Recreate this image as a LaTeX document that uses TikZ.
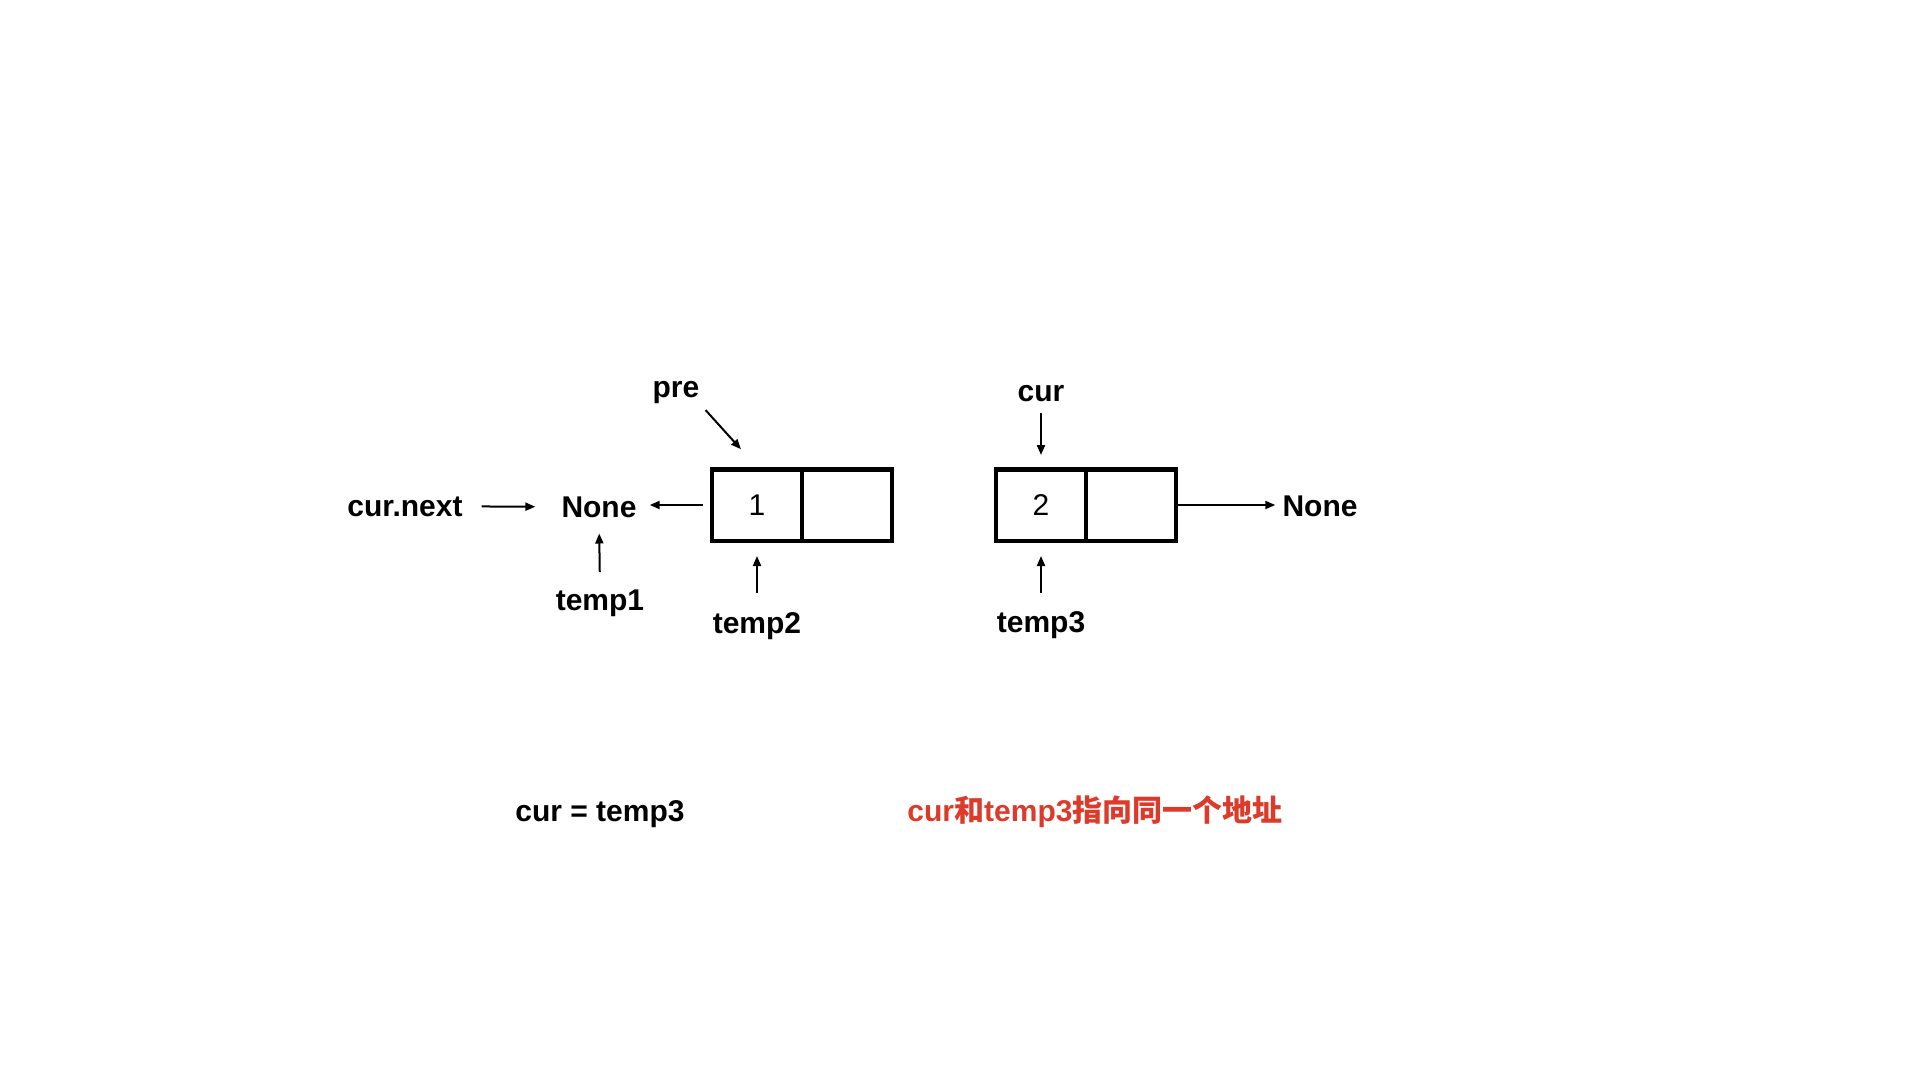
\documentclass[tikz,border=0pt]{standalone}
\usepackage{fontspec}
\setmainfont{Liberation Sans}
\newfontfamily\cjk{Noto Sans CJK SC}
\usetikzlibrary{arrows.meta}
\definecolor{redtxt}{RGB}{222,58,42}
\begin{document}
\begin{tikzpicture}[x=1pt,y=-1pt,
  lbl/.style={font=\fontsize{30}{36}\selectfont\bfseries, inner sep=0pt, anchor=base},
  cell/.style={draw, line width=4.5pt, minimum width=90pt, minimum height=71.5pt, inner sep=0pt, font=\fontsize{30}{36}\selectfont},
  arr/.style={line width=2pt, -{Triangle[length=10pt,width=8pt]}}]
\useasboundingbox[fill=white] (0,0) rectangle (1920,1080);
\node[lbl] (curnext) at (405,516) {cur.next};
\node[lbl] (none1) at (599,517) {None};
\node[cell] (b1a) at (757,505) {1};
\node[cell] (b1b) at (847,505) {};
\node[lbl] (pre) at (676,397) {pre};
\node[lbl] (temp1) at (600,610) {temp1};
\node[lbl] (temp2) at (757,633) {temp2};
\node[cell] (b2a) at (1041,505) {2};
\node[cell] (b2b) at (1131,505) {};
\node[lbl] (cur) at (1041,401) {cur};
\node[lbl] (temp3) at (1041,632) {temp3};
\node[lbl] (none2) at (1320,516) {None};
\node[lbl] (eq) at (600,821) {cur = temp3};
\node[lbl, text=redtxt] (note) at (1095,821) {cur{\cjk 和}temp3{\cjk 指向同一个地址}};
\draw[arr, shorten <=19pt, shorten >=26pt] (curnext.east) -- (none1.west);
\draw[arr, shorten <=7pt, shorten >=13pt] (b1a.west) -- (none1.east |- b1a.west);
\draw[arr, shorten >=7pt] (b2b.east) -- (none2.west |- b2b.east);
\draw[arr, shorten <=17pt, shorten >=16pt] (temp1.north) -- (none1.south);
\draw[arr, shorten <=19pt, shorten >=13pt] (temp2.north) -- (b1a.south);
\draw[arr, shorten <=18pt, shorten >=13pt] (temp3.north) -- (b2a.south);
\draw[arr, shorten <=11pt, shorten >=12pt] (cur.south) -- (b2a.north);
\draw[arr, shorten <=9pt, shorten >=24pt] (pre.south east) -- (b1a.north);
\end{tikzpicture}
\end{document}
